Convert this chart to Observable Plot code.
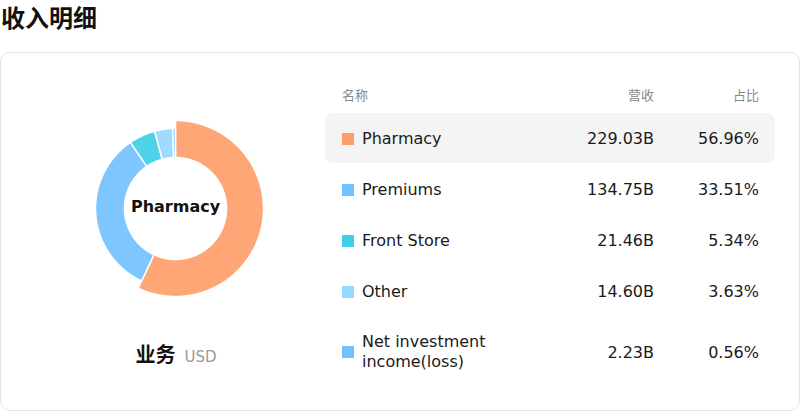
<!DOCTYPE html>
<html><head><meta charset="utf-8">
<script src="https://cdn.jsdelivr.net/npm/d3@7"></script>
<script src="https://cdn.jsdelivr.net/npm/@observablehq/plot@0.6"></script>
<style>
body{margin:0;width:800px;height:412px;overflow:hidden;background:#fff;font-family:"DejaVu Sans","Noto Sans CJK SC",sans-serif;color:#111;}
#title{position:absolute;left:1px;top:1px;font-size:24px;font-weight:bold;line-height:32px;font-family:"Noto Sans CJK SC",sans-serif;color:#111;}
#card{position:absolute;left:0;top:52px;width:798px;height:357px;border:1px solid #e2e2ec;border-radius:10px;}
#chart{position:absolute;left:0;top:0;}
#caption{position:absolute;left:0;top:289px;width:350px;text-align:center;line-height:24px;white-space:nowrap;}
#caption .k{font-family:"Noto Sans CJK SC",sans-serif;font-weight:bold;font-size:20px;color:#111;}
#caption .u{font-family:"DejaVu Sans",sans-serif;font-size:15px;color:#999;margin-left:9px;}
#table{position:absolute;left:324px;top:30px;width:450px;}
.hdr{position:relative;height:30px;line-height:24px;font-family:"Noto Sans CJK SC",sans-serif;font-size:13px;color:#8a8a8a;}
.row{position:relative;display:flex;align-items:center;font-size:16px;color:#1a1a1a;border-radius:8px;}
.row.active{background:#f4f4f4;}
.sw{width:12px;height:12px;margin-left:17px;margin-right:8px;flex:none;}
.nm{width:150px;line-height:20px;}
.c1,.c2{position:absolute;top:0;bottom:0;display:flex;align-items:center;}
.c1{right:121px;}
.c2{right:16px;}
</style></head>
<body>
<div id="title">收入明细</div>
<div id="card">
  <div id="chart"></div>
  <div id="caption"><span class="k">业务</span><span class="u">USD</span></div>
  <div id="table"></div>
</div>
<script>
const names = ["Pharmacy", "Premiums", "Front Store", "Other", "Net investment income(loss)"];
const revenue = [229.03, 134.75, 21.46, 14.60, 2.23];
const shares = [56.96, 33.51, 5.34, 3.63, 0.56];
const colors = ["#FF9E6A", "#73C1FF", "#40CFE7", "#96D9FF", "#73C1FF"];
const headers = ["名称", "营收", "占比"];
const activeName = "Pharmacy";

// donut geometry
const innerR = 51, outerR = 80, activeR = 88;
const data = names.map((n, i) => ({name: n, value: revenue[i]}));
const arcs = d3.pie().value(d => d.value).sort(null).padAngle(0)(data);
const pts = [];
for (const a of arcs) {
  const rOut = a.data.name === activeName ? activeR : outerR;
  const n = Math.max(2, Math.ceil((a.endAngle - a.startAngle) / 0.01));
  for (let k = 0; k <= n; k++) {
    const t = a.startAngle + (a.endAngle - a.startAngle) * k / n;
    pts.push({name: a.data.name, x: rOut * Math.sin(t), y: rOut * Math.cos(t)});
  }
  for (let k = n; k >= 0; k--) {
    const t = a.startAngle + (a.endAngle - a.startAngle) * k / n;
    pts.push({name: a.data.name, x: innerR * Math.sin(t), y: innerR * Math.cos(t)});
  }
}

const chart = Plot.plot({
  width: 350, height: 260,
  margin: 0,
  x: {domain: [-174, 176], axis: null},
  y: {domain: [-105, 155], axis: null},
  color: {type: "ordinal", domain: names, range: colors},
  style: {fontFamily: "DejaVu Sans, sans-serif", background: "transparent"},
  marks: [
    Plot.line(pts, {x: "x", y: "y", z: "name", fill: "name", fillOpacity: 0.92, stroke: "white", strokeWidth: 1.5, curve: "linear-closed"}),
    Plot.text([{name: activeName}], {x: () => 0, y: () => 0, text: "name", dy: -2, fontSize: 16, fontWeight: "bold", fill: "#111"})
  ]
});
document.getElementById("chart").appendChild(chart);

// table
const tbl = document.getElementById("table");
const hdr = document.createElement("div");
hdr.className = "hdr";
hdr.innerHTML = `<span style="position:absolute;left:17px">${headers[0]}</span><span style="position:absolute;right:121px">${headers[1]}</span><span style="position:absolute;right:16px">${headers[2]}</span>`;
tbl.appendChild(hdr);
names.forEach((n, i) => {
  const r = document.createElement("div");
  r.className = "row" + (n === activeName ? " active" : "");
  r.style.height = (n.length > 20 ? 70 : (i === 0 ? 50 : 51)) + "px";
  if (i === 0) r.style.paddingTop = "1px", r.style.height = "49px";
  if (i === 1) r.style.marginTop = "1px";
  r.innerHTML = `<div class="sw" style="background:${colors[i]}"></div><div class="nm">${n}</div><div class="c1" style="${i===0?'top:1px':''}">${revenue[i].toFixed(2)}B</div><div class="c2" style="${i===0?'top:1px':''}">${shares[i].toFixed(2)}%</div>`;
  tbl.appendChild(r);
});
</script>
</body></html>
